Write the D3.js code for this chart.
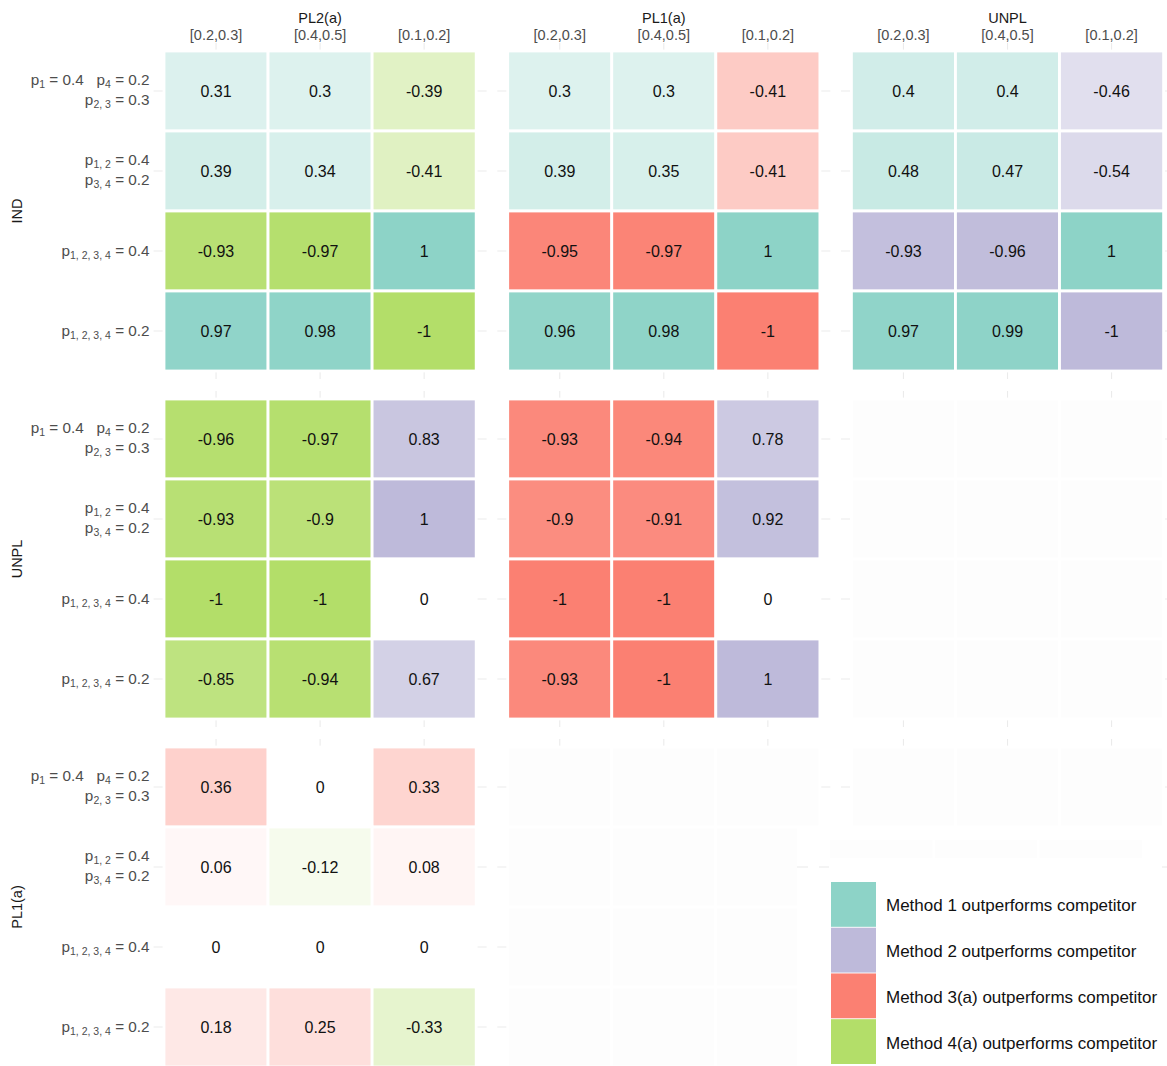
<!DOCTYPE html>
<html>
<head>
<meta charset="utf-8">
<script src="https://cdn.jsdelivr.net/npm/d3@7"></script>
<style>
  html, body { margin: 0; padding: 0; background: #ffffff; }
  svg { display: block; font-family: "Liberation Sans", Arial, Helvetica, sans-serif; }
  text { white-space: pre; }
</style>
</head>
<body>
<svg id="chart" width="1167" height="1066"></svg>
<script>
// ---- categories ----
const xCats = ["[0.2,0.3]", "[0.4,0.5]", "[0.1,0.2]"];
const yCats = ["p1=0.4 p4=0.2 p23=0.3", "p12=0.4 p34=0.2", "p1234=0.4", "p1234=0.2"];
const panelCols = ["PL2(a)", "PL1(a)", "UNPL"];
const panelRows = ["IND", "UNPL", "PL1(a)"];

// ---- legend / methods ----
const methodNames = [
  "Method 1 outperforms competitor",
  "Method 2 outperforms competitor",
  "Method 3(a) outperforms competitor",
  "Method 4(a) outperforms competitor"
];
const methodColors = ["#8dd3c7", "#bebada", "#fb8072", "#b3de69"];
// which method a positive value favours (panel row) and a negative value favours (panel column)
const rowMethodIndex = [0, 1, 2];   // IND, UNPL, PL1(a)
const colMethodIndex = [3, 2, 1];   // PL2(a), PL1(a), UNPL

// ---- row tick labels: base letter, subscript, value ----
const yLabelLines = [
  [[["p", "1", "0.4"], ["p", "4", "0.2"]], [["p", "2, 3", "0.3"]]],
  [[["p", "1, 2", "0.4"]], [["p", "3, 4", "0.2"]]],
  [[["p", "1, 2, 3, 4", "0.4"]]],
  [[["p", "1, 2, 3, 4", "0.2"]]]
];

// ---- values: rows = yCats, columns = xCats ----
const valIND_PL2 = [[0.31, 0.3, -0.39], [0.39, 0.34, -0.41], [-0.93, -0.97, 1], [0.97, 0.98, -1]];
const valIND_PL1 = [[0.3, 0.3, -0.41], [0.39, 0.35, -0.41], [-0.95, -0.97, 1], [0.96, 0.98, -1]];
const valIND_UNPL = [[0.4, 0.4, -0.46], [0.48, 0.47, -0.54], [-0.93, -0.96, 1], [0.97, 0.99, -1]];
const valUNPL_PL2 = [[-0.96, -0.97, 0.83], [-0.93, -0.9, 1], [-1, -1, 0], [-0.85, -0.94, 0.67]];
const valUNPL_PL1 = [[-0.93, -0.94, 0.78], [-0.9, -0.91, 0.92], [-1, -1, 0], [-0.93, -1, 1]];
const valPL1_PL2 = [[0.36, 0, 0.33], [0.06, -0.12, 0.08], [0, 0, 0], [0.18, 0.25, -0.33]];

// panel grid: [row][col]; null = comparison not made
const panelValues = [
  [valIND_PL2, valIND_PL1, valIND_UNPL],
  [valUNPL_PL2, valUNPL_PL1, null],
  [valPL1_PL2, null, null]
];

// ---- build long table ----
const cells = [];
panelRows.forEach((pr, ri) => {
  panelCols.forEach((pc, ci) => {
    const m = panelValues[ri][ci];
    yCats.forEach((yc, yi) => {
      xCats.forEach((xc, xi) => {
        cells.push({ pr, pc, ri, ci, yc, xc, v: m ? m[yi][xi] : null });
      });
    });
  });
});

// ---- scales ----
const svg = d3.select("#chart");
const outerX = d3.scaleBand().domain(panelCols).range([153.6, 1174]).paddingInner(0.0312);
const outerY = d3.scaleBand().domain(panelRows).range([43, 1075]).paddingInner(0.0345);
const x = d3.scaleBand().domain(xCats).range([0, outerX.bandwidth()]).paddingOuter(0.1);
const y = d3.scaleBand().domain(yCats).range([0, outerY.bandwidth()]).paddingOuter(0.1);
const white = "#ffffff";
const naFill = "#fdfdfd";

function fillFor(d) {
  if (d.v === null) return naFill;
  const mi = d.v >= 0 ? rowMethodIndex[d.ri] : colMethodIndex[d.ci];
  return d3.interpolateRgb(white, methodColors[mi])(Math.abs(d.v));
}

const root = svg.append("g");

// ---- panels ----
panelRows.forEach((pr, ri) => {
  panelCols.forEach((pc, ci) => {
    const g = root.append("g")
      .attr("transform", `translate(${outerX(pc)},${outerY(pr)})`);
    const W = outerX.bandwidth(), H = outerY.bandwidth();

    // major grid lines
    g.selectAll("line.gx").data(xCats).join("line")
      .attr("x1", d => x(d) + x.bandwidth() / 2).attr("x2", d => x(d) + x.bandwidth() / 2)
      .attr("y1", 0).attr("y2", H)
      .attr("stroke", "#ebebeb").attr("stroke-width", 1.1);
    g.selectAll("line.gy").data(yCats).join("line")
      .attr("y1", d => y(d) + y.bandwidth() / 2).attr("y2", d => y(d) + y.bandwidth() / 2)
      .attr("x1", 0).attr("x2", W)
      .attr("stroke", "#ebebeb").attr("stroke-width", 1.1);

    const pcells = cells.filter(c => c.pr === pr && c.pc === pc);
    g.selectAll("rect.tile").data(pcells).join("rect")
      .attr("class", "tile")
      .attr("x", d => x(d.xc)).attr("y", d => y(d.yc))
      .attr("width", x.bandwidth()).attr("height", y.bandwidth())
      .attr("fill", fillFor)
      .attr("stroke", white).attr("stroke-width", 2.8);

    g.selectAll("text.val").data(pcells.filter(c => c.v !== null)).join("text")
      .attr("class", "val")
      .attr("x", d => x(d.xc) + x.bandwidth() / 2)
      .attr("y", d => y(d.yc) + y.bandwidth() / 2 + 6)
      .attr("text-anchor", "middle")
      .attr("font-size", 16)
      .attr("fill", "#111111")
      .text(d => String(d.v));

    // x tick labels on top row
    if (ri === 0) {
      const ax = g.append("g").call(d3.axisTop(x).tickSize(0).tickPadding(3));
      ax.select(".domain").remove();
      ax.selectAll("text")
        .attr("font-size", 14.5)
        .attr("font-family", "Liberation Sans, Arial, sans-serif")
        .attr("fill", "#4d4d4d");
    }

    // y tick labels on first column
    if (ci === 0) {
      yCats.forEach((yc, yi) => {
        const lines = yLabelLines[yi];
        const cy = y(yc) + y.bandwidth() / 2;
        const baselines = lines.length === 2 ? [cy - 6, cy + 14] : [cy + 5];
        lines.forEach((terms, li) => {
          const t = g.append("text")
            .attr("x", -4).attr("y", baselines[li])
            .attr("text-anchor", "end")
            .attr("font-size", 15.3)
            .attr("fill", "#4d4d4d");
          terms.forEach((term, ti) => {
            t.append("tspan").text((ti > 0 ? "   " : "") + term[0]);
            t.append("tspan").attr("font-size", 10.5).attr("dy", 3.5).text(term[1]);
            t.append("tspan").attr("dy", -3.5).text(" = " + term[2]);
          });
        });
      });
    }
  });
});

// ---- strip labels ----
root.selectAll("text.stripx").data(panelCols).join("text")
  .attr("class", "stripx")
  .attr("x", d => outerX(d) + outerX.bandwidth() / 2)
  .attr("y", 23)
  .attr("text-anchor", "middle")
  .attr("font-size", 14.5)
  .attr("fill", "#1a1a1a")
  .text(d => d);

root.selectAll("text.stripy").data(panelRows).join("text")
  .attr("class", "stripy")
  .attr("transform", d => `translate(22,${outerY(d) + outerY.bandwidth() / 2}) rotate(-90)`)
  .attr("text-anchor", "middle")
  .attr("font-size", 14.5)
  .attr("fill", "#1a1a1a")
  .text(d => d);

// ---- legend (drawn over the empty lower-right area) ----
const lg = root.append("g");
lg.append("rect").attr("x", 797).attr("y", 828).attr("width", 370).attr("height", 238).attr("fill", white);
// faint strip of background tiles behind the legend box
const legendBand = d3.scaleBand().domain(xCats).range([830, 1142]).paddingInner(0.02);
lg.selectAll("rect.band").data(xCats).join("rect")
  .attr("class", "band")
  .attr("x", d => legendBand(d)).attr("y", 840)
  .attr("width", legendBand.bandwidth()).attr("height", 18)
  .attr("fill", naFill);
[[797, 808], [819, 829], [1162, 1167]].forEach(s => {
  lg.append("line").attr("x1", s[0]).attr("x2", s[1]).attr("y1", 867).attr("y2", 867)
    .attr("stroke", "#ebebeb").attr("stroke-width", 1.1);
});

const keyY = d3.scaleBand().domain(methodNames).range([882, 1064]).paddingInner(0.02);
lg.selectAll("rect.key").data(methodNames).join("rect")
  .attr("class", "key")
  .attr("x", 831).attr("y", d => keyY(d))
  .attr("width", 45).attr("height", keyY.bandwidth())
  .attr("fill", (d, i) => methodColors[i]);
lg.selectAll("text.key").data(methodNames).join("text")
  .attr("class", "key")
  .attr("x", 886).attr("y", d => keyY(d) + keyY.bandwidth() / 2 + 7)
  .attr("font-size", 17)
  .attr("fill", "#111111")
  .text(d => d);
</script>
</body>
</html>
